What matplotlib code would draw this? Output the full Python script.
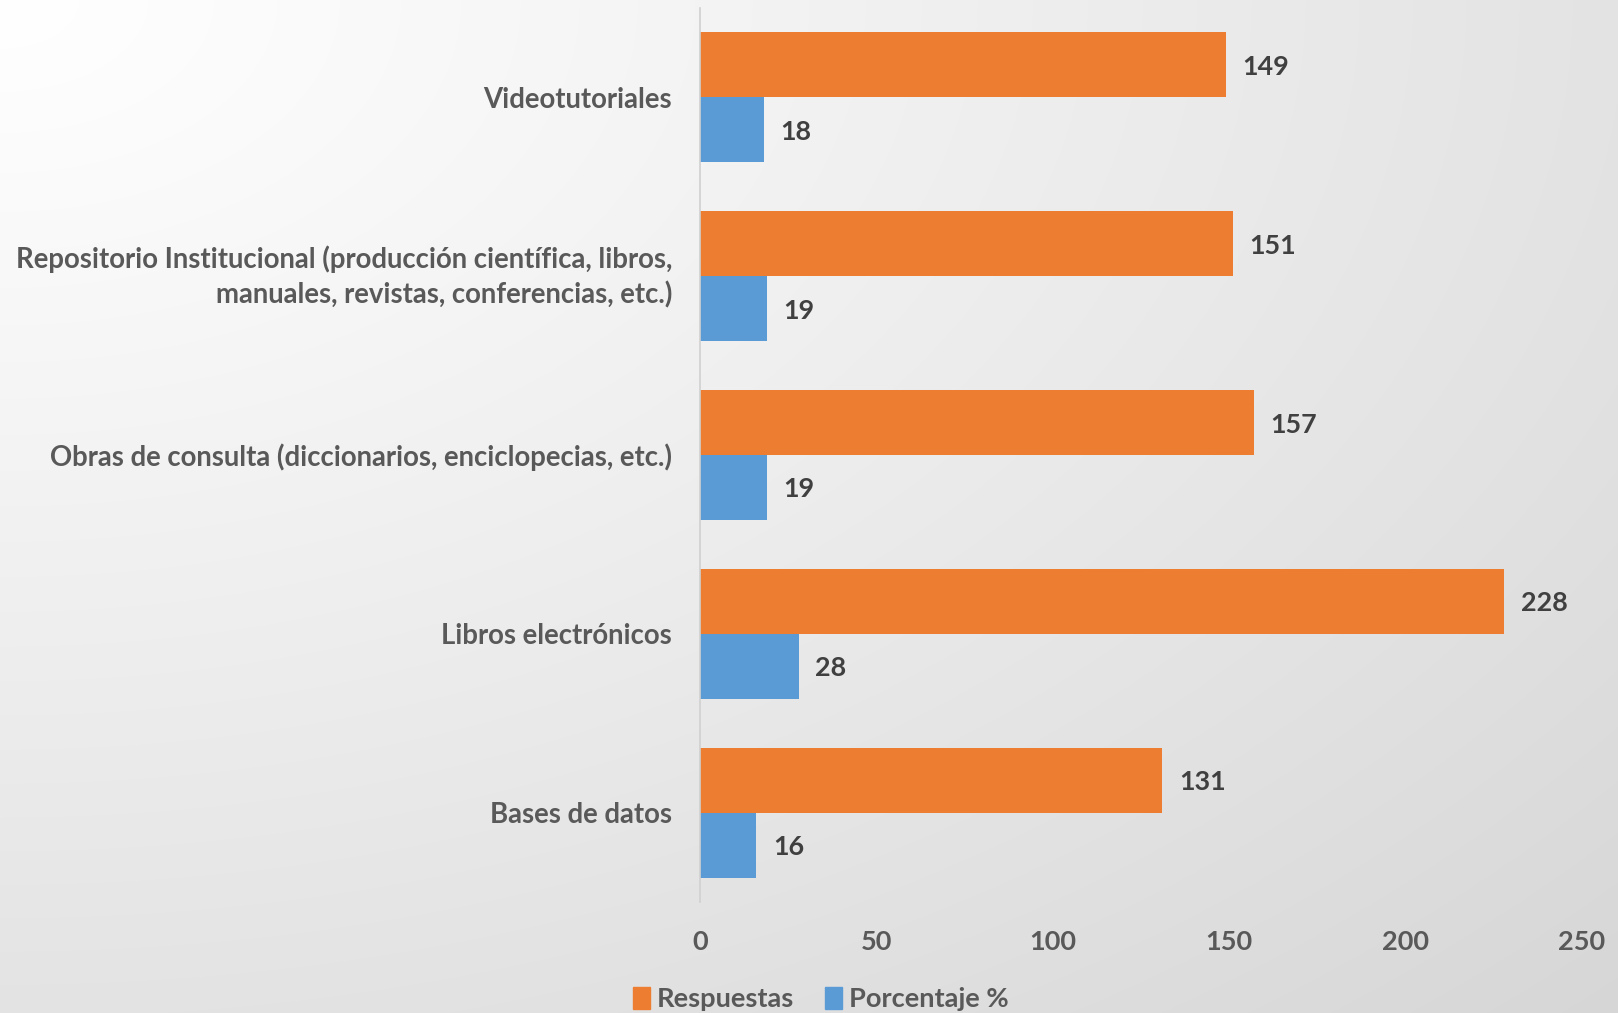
import numpy as np
import matplotlib
matplotlib.use("Agg")
import matplotlib.pyplot as plt
import matplotlib.transforms as mtransforms
from matplotlib.patches import Patch

categories = ["Bases de datos", "Libros electrónicos",
              "Obras de consulta (diccionarios, enciclopecias, etc.)",
              "Repositorio Institucional (producción científica, libros,\nmanuales, revistas, conferencias, etc.)",
              "Videotutoriales"]
respuestas = [131, 228, 157, 151, 149]
porcentaje = [16, 28, 19, 19, 18]
series_names = ["Respuestas", "Porcentaje %"]
xticks = [0, 50, 100, 150, 200, 250]

plt.rcParams['font.family'] = ['Lato', 'DejaVu Sans']
W, H = 1618, 1013
fig = plt.figure(figsize=(W/100, H/100), dpi=100)

# background gradient
bg = fig.add_axes([0, 0, 1, 1], zorder=-10)
yy, xx = np.mgrid[0:H, 0:W]
d = np.sqrt((xx/W)**2 + (yy/H)**2) / np.sqrt(2)
val = 1.0 - 0.16 * np.clip(d, 0, 1)**1.1
img = np.dstack([val, val, val])
bg.imshow(img, aspect='auto', extent=[0, 1, 0, 1])
bg.axis('off')

ax = fig.add_axes([700/W, 1 - 902/H, 882/W, 894/H])
ax.patch.set_alpha(0)
y = np.arange(len(categories))
h = 0.363
orange = "#ED7D31"
blue = "#5B9BD5"
ax.barh(y + h/2, respuestas, height=h, color=orange)
ax.barh(y - h/2, porcentaje, height=h, color=blue)
ax.set_xlim(0, 250)
ax.set_ylim(-0.5, 4.5)
ax.set_yticks(y)
ax.set_yticklabels(categories, fontsize=19.8, fontweight='bold', color='#595959', linespacing=1.4)
ax.set_xticks(xticks)
ax.set_xticklabels([str(t) for t in xticks], fontsize=19.5, fontweight='bold', color='#595959')
ax.tick_params(axis='both', length=0)
ax.tick_params(axis='y', pad=20)
ax.tick_params(axis='x', pad=20)
for s in ['top', 'right', 'bottom']:
    ax.spines[s].set_visible(False)
ax.spines['left'].set_color('#D0D0D0')
ax.spines['left'].set_linewidth(1.2)

# shift multi-line labels slightly up to center them on the category
for lab in ax.get_yticklabels():
    if "\n" in lab.get_text():
        lab.set_transform(lab.get_transform() +
                          mtransforms.ScaledTranslation(0, 4.5/72, fig.dpi_scale_trans))

for yi, v in zip(y, respuestas):
    ax.annotate(str(v), (v, yi + h/2), xytext=(12, 0), textcoords='offset points',
                va='center_baseline', ha='left', fontsize=19.4, fontweight='bold', color='#404040')
for yi, v in zip(y, porcentaje):
    ax.annotate(str(v), (v, yi - h/2), xytext=(12, 0), textcoords='offset points',
                va='center_baseline', ha='left', fontsize=19.4, fontweight='bold', color='#404040')

handles = [Patch(color=orange), Patch(color=blue)]
fig.legend(handles, series_names, loc='center', bbox_to_anchor=(821/W, 1 - 999/H),
           ncol=2, frameon=False, prop={'size': 19.6, 'weight': 'bold'},
           handlelength=0.62, handleheight=0.9, handletextpad=0.25, columnspacing=1.15,
           labelcolor='#595959')

fig.savefig("out.png", dpi=100)
